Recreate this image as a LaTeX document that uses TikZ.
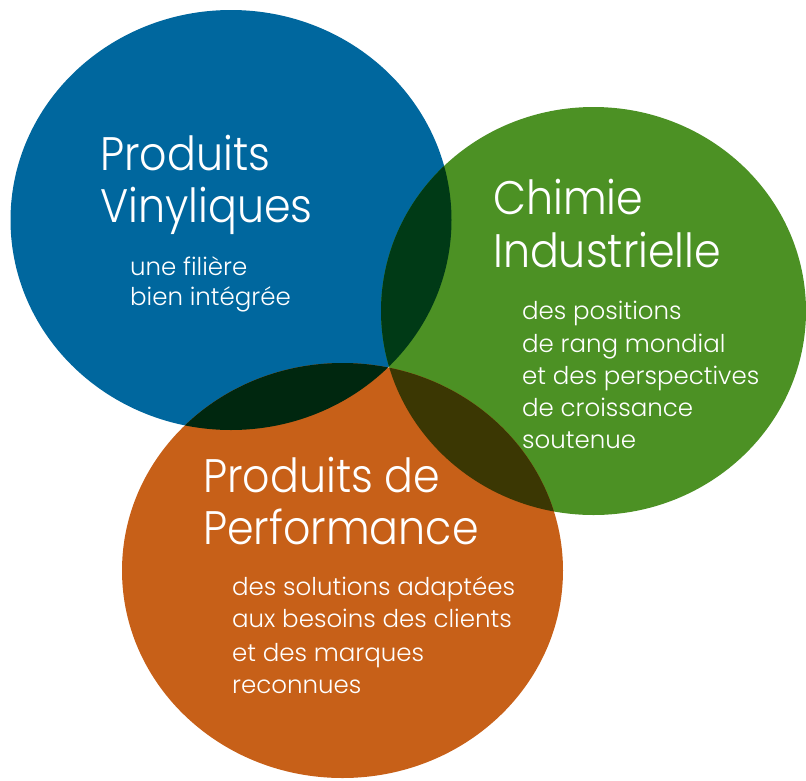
\documentclass[tikz,border=0pt]{standalone}
\usepackage{fontspec}
\setmainfont{Poppins}[UprightFont=* Light]
\definecolor{cblue}{RGB}{0,103,158}
\definecolor{cgreen}{RGB}{76,145,36}
\definecolor{corange}{RGB}{199,96,24}
\definecolor{cbg}{RGB}{0,58,22}
\definecolor{cbo}{RGB}{0,39,15}
\definecolor{cgo}{RGB}{59,55,3}
\definecolor{cbgo}{RGB}{0,22,1}
\newcommand{\ttl}[1]{\scalebox{0.91}[1]{#1}}
\tikzset{
  title/.style={anchor=base west, inner sep=0pt, text=white, font=\fontsize{47}{52}\selectfont},
  sub/.style={anchor=base west, inner sep=0pt, text=white, font=\fontsize{24.5}{30}\selectfont},
}
\newcommand{\eblue}{(231,220) ellipse [x radius=220.5pt, y radius=210pt]}
\newcommand{\egreen}{(593.5,311) ellipse [x radius=212.5pt, y radius=204pt]}
\newcommand{\eorange}{(342.5,570.5) ellipse [x radius=220.5pt, y radius=207.5pt]}
\begin{document}
\begin{tikzpicture}[x=1pt,y=-1pt]
\useasboundingbox (0,0) rectangle (806,780);
\fill[cblue] \eblue;
\fill[cgreen] \egreen;
\fill[corange] \eorange;
\begin{scope}\clip \eblue; \fill[cbg] \egreen; \end{scope}
\begin{scope}\clip \eblue; \fill[cbo] \eorange; \end{scope}
\begin{scope}\clip \egreen; \fill[cgo] \eorange; \end{scope}
\begin{scope}\clip \eblue; \clip \egreen; \fill[cbgo] \eorange; \end{scope}
% Produits Vinyliques
\node[title] (pv1) at (100,170) {\ttl{Produits}};
\node[title] (pv2) at (100,222) {\ttl{Vinyliques}};
\node[sub] (pv3) at (130,275) {une filière};
\node[sub] (pv4) at (130,305) {bien intégrée};
% Chimie Industrielle
\node[title] (ci1) at (493,214) {\ttl{Chimie}};
\node[title] (ci2) at (493,267) {\ttl{Industrielle}};
\node[sub] (ci3) at (522,319) {des positions};
\node[sub] (ci4) at (522,352) {de rang mondial};
\node[sub] (ci5) at (522,384) {et des perspectives};
\node[sub] (ci6) at (522,416) {de croissance};
\node[sub] (ci7) at (522,448) {soutenue};
% Produits de Performance
\node[title] (pp1) at (203,492) {\ttl{Produits de}};
\node[title] (pp2) at (203,544) {\ttl{Performance}};
\node[sub] (pp3) at (232,595) {des solutions adaptées};
\node[sub] (pp4) at (232,627) {aux besoins des clients};
\node[sub] (pp5) at (232,661) {et des marques};
\node[sub] (pp6) at (232,693) {reconnues};
\end{tikzpicture}
\end{document}
